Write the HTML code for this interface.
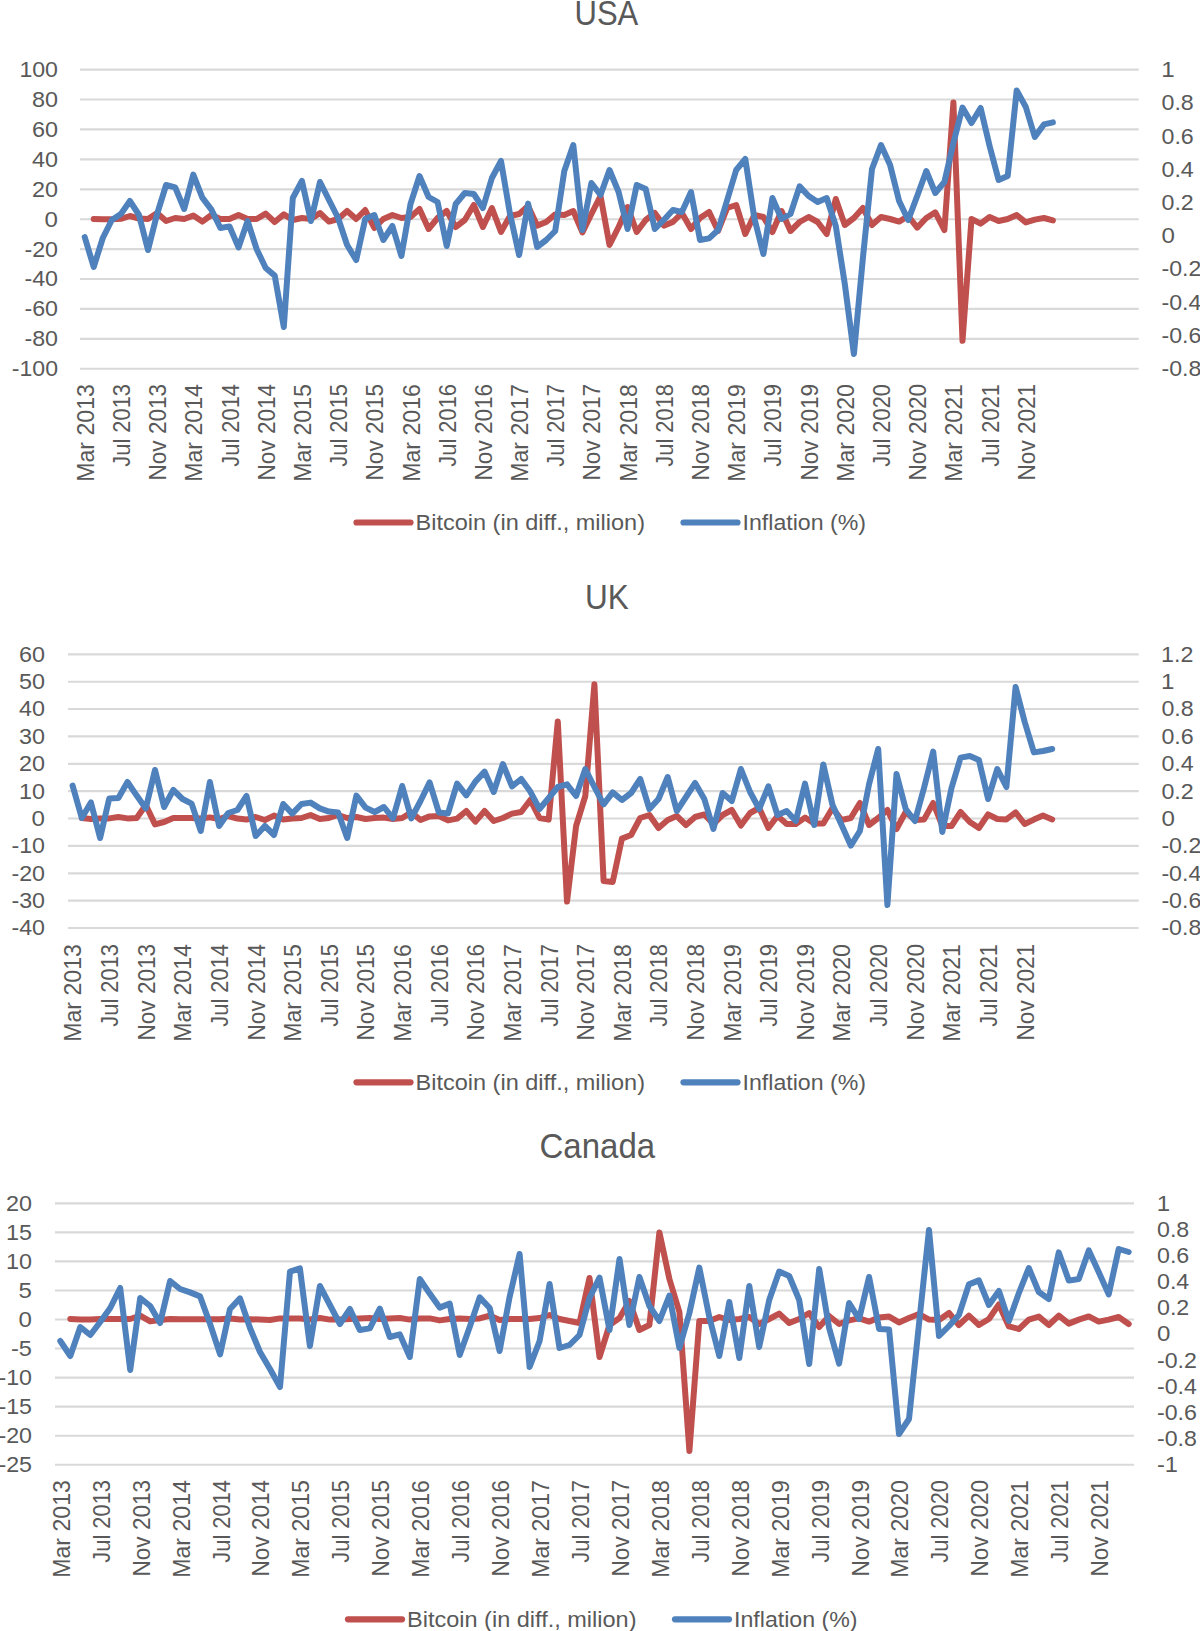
<!DOCTYPE html>
<html lang="en"><head><meta charset="utf-8"><title>Bitcoin and inflation: USA, UK, Canada</title>
<style>
html,body{margin:0;padding:0;background:#fff}
svg{display:block}
text{font-family:"Liberation Sans",sans-serif;fill:#595959}
</style></head><body>
<svg width="1200" height="1631" viewBox="0 0 1200 1631">
<rect width="1200" height="1631" fill="#fff"/>
<path d="M80 69.6H1138.7M80 99.5H1138.7M80 129.4H1138.7M80 159.3H1138.7M80 189.3H1138.7M80 219.2H1138.7M80 249.1H1138.7M80 279.0H1138.7M80 308.9H1138.7M80 338.8H1138.7M80 368.7H1138.7" stroke="#d9d9d9" stroke-width="2.15" fill="none"/>
<text x="19.4" y="77.0" font-size="22.4" textLength="38.6" lengthAdjust="spacingAndGlyphs">100</text>
<text x="32.0" y="106.9" font-size="22.4" textLength="26.0" lengthAdjust="spacingAndGlyphs">80</text>
<text x="32.0" y="136.8" font-size="22.4" textLength="26.0" lengthAdjust="spacingAndGlyphs">60</text>
<text x="32.0" y="166.7" font-size="22.4" textLength="26.0" lengthAdjust="spacingAndGlyphs">40</text>
<text x="32.0" y="196.7" font-size="22.4" textLength="26.0" lengthAdjust="spacingAndGlyphs">20</text>
<text x="44.6" y="226.6" font-size="22.4" textLength="13.4" lengthAdjust="spacingAndGlyphs">0</text>
<text x="24.4" y="256.5" font-size="22.4" textLength="33.6" lengthAdjust="spacingAndGlyphs">-20</text>
<text x="24.4" y="286.4" font-size="22.4" textLength="33.6" lengthAdjust="spacingAndGlyphs">-40</text>
<text x="24.4" y="316.3" font-size="22.4" textLength="33.6" lengthAdjust="spacingAndGlyphs">-60</text>
<text x="24.4" y="346.2" font-size="22.4" textLength="33.6" lengthAdjust="spacingAndGlyphs">-80</text>
<text x="11.8" y="376.1" font-size="22.4" textLength="46.2" lengthAdjust="spacingAndGlyphs">-100</text>
<text x="1161.2" y="77.0" font-size="22.4" textLength="13.4" lengthAdjust="spacingAndGlyphs">1</text>
<text x="1161.5" y="110.2" font-size="22.4" textLength="32.3" lengthAdjust="spacingAndGlyphs">0.8</text>
<text x="1161.5" y="143.5" font-size="22.4" textLength="32.3" lengthAdjust="spacingAndGlyphs">0.6</text>
<text x="1161.5" y="176.7" font-size="22.4" textLength="32.3" lengthAdjust="spacingAndGlyphs">0.4</text>
<text x="1161.5" y="210.0" font-size="22.4" textLength="32.3" lengthAdjust="spacingAndGlyphs">0.2</text>
<text x="1161.5" y="243.2" font-size="22.4" textLength="13.4" lengthAdjust="spacingAndGlyphs">0</text>
<text x="1161.5" y="276.4" font-size="22.4" textLength="39.9" lengthAdjust="spacingAndGlyphs">-0.2</text>
<text x="1161.5" y="309.7" font-size="22.4" textLength="39.9" lengthAdjust="spacingAndGlyphs">-0.4</text>
<text x="1161.5" y="342.9" font-size="22.4" textLength="39.9" lengthAdjust="spacingAndGlyphs">-0.6</text>
<text x="1161.5" y="376.2" font-size="22.4" textLength="39.9" lengthAdjust="spacingAndGlyphs">-0.8</text>
<text x="93.8" y="481.8" font-size="23.2" textLength="97.8" lengthAdjust="spacingAndGlyphs" transform="rotate(-90 93.8 481.8)">Mar 2013</text>
<text x="130.0" y="466.7" font-size="23.2" textLength="82.7" lengthAdjust="spacingAndGlyphs" transform="rotate(-90 130.0 466.7)">Jul 2013</text>
<text x="166.2" y="480.4" font-size="23.2" textLength="96.4" lengthAdjust="spacingAndGlyphs" transform="rotate(-90 166.2 480.4)">Nov 2013</text>
<text x="202.4" y="481.8" font-size="23.2" textLength="97.8" lengthAdjust="spacingAndGlyphs" transform="rotate(-90 202.4 481.8)">Mar 2014</text>
<text x="238.6" y="466.7" font-size="23.2" textLength="82.7" lengthAdjust="spacingAndGlyphs" transform="rotate(-90 238.6 466.7)">Jul 2014</text>
<text x="274.8" y="480.4" font-size="23.2" textLength="96.4" lengthAdjust="spacingAndGlyphs" transform="rotate(-90 274.8 480.4)">Nov 2014</text>
<text x="311.0" y="481.8" font-size="23.2" textLength="97.8" lengthAdjust="spacingAndGlyphs" transform="rotate(-90 311.0 481.8)">Mar 2015</text>
<text x="347.2" y="466.7" font-size="23.2" textLength="82.7" lengthAdjust="spacingAndGlyphs" transform="rotate(-90 347.2 466.7)">Jul 2015</text>
<text x="383.4" y="480.4" font-size="23.2" textLength="96.4" lengthAdjust="spacingAndGlyphs" transform="rotate(-90 383.4 480.4)">Nov 2015</text>
<text x="419.6" y="481.8" font-size="23.2" textLength="97.8" lengthAdjust="spacingAndGlyphs" transform="rotate(-90 419.6 481.8)">Mar 2016</text>
<text x="455.8" y="466.7" font-size="23.2" textLength="82.7" lengthAdjust="spacingAndGlyphs" transform="rotate(-90 455.8 466.7)">Jul 2016</text>
<text x="492.0" y="480.4" font-size="23.2" textLength="96.4" lengthAdjust="spacingAndGlyphs" transform="rotate(-90 492.0 480.4)">Nov 2016</text>
<text x="528.2" y="481.8" font-size="23.2" textLength="97.8" lengthAdjust="spacingAndGlyphs" transform="rotate(-90 528.2 481.8)">Mar 2017</text>
<text x="564.3" y="466.7" font-size="23.2" textLength="82.7" lengthAdjust="spacingAndGlyphs" transform="rotate(-90 564.3 466.7)">Jul 2017</text>
<text x="600.5" y="480.4" font-size="23.2" textLength="96.4" lengthAdjust="spacingAndGlyphs" transform="rotate(-90 600.5 480.4)">Nov 2017</text>
<text x="636.7" y="481.8" font-size="23.2" textLength="97.8" lengthAdjust="spacingAndGlyphs" transform="rotate(-90 636.7 481.8)">Mar 2018</text>
<text x="672.9" y="466.7" font-size="23.2" textLength="82.7" lengthAdjust="spacingAndGlyphs" transform="rotate(-90 672.9 466.7)">Jul 2018</text>
<text x="709.1" y="480.4" font-size="23.2" textLength="96.4" lengthAdjust="spacingAndGlyphs" transform="rotate(-90 709.1 480.4)">Nov 2018</text>
<text x="745.3" y="481.8" font-size="23.2" textLength="97.8" lengthAdjust="spacingAndGlyphs" transform="rotate(-90 745.3 481.8)">Mar 2019</text>
<text x="781.5" y="466.7" font-size="23.2" textLength="82.7" lengthAdjust="spacingAndGlyphs" transform="rotate(-90 781.5 466.7)">Jul 2019</text>
<text x="817.7" y="480.4" font-size="23.2" textLength="96.4" lengthAdjust="spacingAndGlyphs" transform="rotate(-90 817.7 480.4)">Nov 2019</text>
<text x="853.9" y="481.8" font-size="23.2" textLength="97.8" lengthAdjust="spacingAndGlyphs" transform="rotate(-90 853.9 481.8)">Mar 2020</text>
<text x="890.1" y="466.7" font-size="23.2" textLength="82.7" lengthAdjust="spacingAndGlyphs" transform="rotate(-90 890.1 466.7)">Jul 2020</text>
<text x="926.3" y="480.4" font-size="23.2" textLength="96.4" lengthAdjust="spacingAndGlyphs" transform="rotate(-90 926.3 480.4)">Nov 2020</text>
<text x="962.5" y="481.8" font-size="23.2" textLength="97.8" lengthAdjust="spacingAndGlyphs" transform="rotate(-90 962.5 481.8)">Mar 2021</text>
<text x="998.7" y="466.7" font-size="23.2" textLength="82.7" lengthAdjust="spacingAndGlyphs" transform="rotate(-90 998.7 466.7)">Jul 2021</text>
<text x="1034.9" y="480.4" font-size="23.2" textLength="96.4" lengthAdjust="spacingAndGlyphs" transform="rotate(-90 1034.9 480.4)">Nov 2021</text>
<polyline points="93.7,219.0 102.8,219.2 111.8,219.2 120.9,218.8 129.9,216.0 139.0,218.6 148.0,219.0 157.1,213.0 166.1,221.0 175.2,218.0 184.2,219.0 193.3,215.6 202.3,221.6 211.4,215.0 220.4,219.0 229.5,219.0 238.5,215.0 247.6,219.0 256.6,219.0 265.7,213.6 274.7,222.0 283.8,214.4 292.8,220.0 301.9,218.0 310.9,219.0 320.0,213.0 329.0,221.6 338.1,219.0 347.1,211.0 356.2,219.0 365.2,210.0 374.3,228.0 383.3,219.0 392.4,215.0 401.4,218.0 410.5,217.0 419.5,209.0 428.6,229.0 437.6,218.0 446.7,211.0 455.7,227.0 464.8,220.0 473.8,205.0 482.9,227.0 491.9,208.0 501.0,232.0 510.0,216.0 519.1,214.0 528.1,206.0 537.1,225.6 546.2,222.0 555.2,214.4 564.3,215.0 573.3,211.0 582.4,232.4 591.4,214.0 600.5,196.0 609.5,245.0 618.6,227.0 627.6,207.0 636.7,232.0 645.7,220.0 654.8,213.0 663.8,225.6 672.9,222.0 681.9,213.0 691.0,229.0 700.0,218.0 709.1,212.0 718.1,231.0 727.2,208.0 736.2,205.0 745.3,234.0 754.3,215.0 763.4,217.0 772.4,232.0 781.5,211.0 790.5,231.0 799.6,222.0 808.6,217.0 817.7,222.0 826.7,234.0 835.8,199.0 844.8,225.0 853.9,218.0 862.9,208.0 872.0,225.0 881.0,217.0 890.1,219.0 899.1,221.6 908.2,216.0 917.2,227.6 926.3,218.0 935.3,212.4 944.4,230.0 953.4,102.4 962.5,340.8 971.5,219.0 980.6,223.6 989.6,217.0 998.6,221.0 1007.7,219.0 1016.7,215.0 1025.8,222.4 1034.8,219.6 1043.9,218.0 1052.9,220.4" stroke="#c0504d" stroke-width="6.0" fill="none" stroke-linejoin="round" stroke-linecap="round"/>
<polyline points="84.7,237.0 93.7,267.0 102.8,238.0 111.8,220.0 120.9,214.0 129.9,201.0 139.0,215.0 148.0,250.0 157.1,214.0 166.1,185.0 175.2,187.4 184.2,209.0 193.3,174.6 202.3,197.6 211.4,209.6 220.4,228.0 229.5,226.4 238.5,247.4 247.6,221.0 256.6,249.0 265.7,268.0 274.7,275.6 283.8,327.0 292.8,198.0 301.9,181.0 310.9,221.0 320.0,182.0 329.0,200.0 338.1,218.0 347.1,245.0 356.2,260.0 365.2,219.0 374.3,215.0 383.3,240.0 392.4,226.0 401.4,256.0 410.5,204.0 419.5,176.0 428.6,197.0 437.6,202.0 446.7,246.0 455.7,204.0 464.8,193.0 473.8,194.0 482.9,208.0 491.9,178.0 501.0,161.0 510.0,214.0 519.1,255.0 528.1,203.6 537.1,247.0 546.2,240.0 555.2,231.0 564.3,171.0 573.3,145.0 582.4,230.0 591.4,183.0 600.5,195.0 609.5,170.0 618.6,192.0 627.6,229.0 636.7,185.0 645.7,189.0 654.8,229.0 663.8,220.0 672.9,210.0 681.9,212.0 691.0,192.0 700.0,240.0 709.1,238.4 718.1,230.0 727.2,200.0 736.2,170.0 745.3,159.0 754.3,218.0 763.4,254.0 772.4,198.0 781.5,219.0 790.5,214.0 799.6,186.4 808.6,196.0 817.7,202.0 826.7,198.0 835.8,226.0 844.8,284.0 853.9,354.0 862.9,258.0 872.0,169.0 881.0,145.0 890.1,165.0 899.1,201.0 908.2,220.0 917.2,196.0 926.3,171.0 935.3,193.0 944.4,182.0 953.4,143.0 962.5,107.6 971.5,123.0 980.6,108.0 989.6,146.0 998.6,180.0 1007.7,176.0 1016.7,90.4 1025.8,107.0 1034.8,137.0 1043.9,124.4 1052.9,122.4" stroke="#4f81bd" stroke-width="6.0" fill="none" stroke-linejoin="round" stroke-linecap="round"/>
<text x="574.5" y="25.0" font-size="35.6" textLength="63.8" lengthAdjust="spacingAndGlyphs">USA</text>
<path d="M356.5 522.5H410.5" stroke="#c0504d" stroke-width="6.2" stroke-linecap="round"/>
<path d="M683.5 522.5H737.5" stroke="#4f81bd" stroke-width="6.2" stroke-linecap="round"/>
<text x="415.5" y="530.2" font-size="22.4" textLength="229.5" lengthAdjust="spacingAndGlyphs">Bitcoin (in diff., milion)</text>
<text x="742.5" y="530.2" font-size="22.4" textLength="123.5" lengthAdjust="spacingAndGlyphs">Inflation (%)</text>
<path d="M68 654.3H1138.7M68 681.7H1138.7M68 709.0H1138.7M68 736.4H1138.7M68 763.8H1138.7M68 791.1H1138.7M68 818.5H1138.7M68 845.9H1138.7M68 873.3H1138.7M68 900.6H1138.7M68 928.0H1138.7" stroke="#d9d9d9" stroke-width="2.15" fill="none"/>
<text x="19.0" y="661.7" font-size="22.4" textLength="26.0" lengthAdjust="spacingAndGlyphs">60</text>
<text x="19.0" y="689.1" font-size="22.4" textLength="26.0" lengthAdjust="spacingAndGlyphs">50</text>
<text x="19.0" y="716.4" font-size="22.4" textLength="26.0" lengthAdjust="spacingAndGlyphs">40</text>
<text x="19.0" y="743.8" font-size="22.4" textLength="26.0" lengthAdjust="spacingAndGlyphs">30</text>
<text x="19.0" y="771.2" font-size="22.4" textLength="26.0" lengthAdjust="spacingAndGlyphs">20</text>
<text x="19.0" y="798.5" font-size="22.4" textLength="26.0" lengthAdjust="spacingAndGlyphs">10</text>
<text x="31.6" y="825.9" font-size="22.4" textLength="13.4" lengthAdjust="spacingAndGlyphs">0</text>
<text x="11.4" y="853.3" font-size="22.4" textLength="33.6" lengthAdjust="spacingAndGlyphs">-10</text>
<text x="11.4" y="880.7" font-size="22.4" textLength="33.6" lengthAdjust="spacingAndGlyphs">-20</text>
<text x="11.4" y="908.0" font-size="22.4" textLength="33.6" lengthAdjust="spacingAndGlyphs">-30</text>
<text x="11.4" y="935.4" font-size="22.4" textLength="33.6" lengthAdjust="spacingAndGlyphs">-40</text>
<text x="1161.1" y="661.7" font-size="22.4" textLength="32.3" lengthAdjust="spacingAndGlyphs">1.2</text>
<text x="1161.1" y="689.1" font-size="22.4" textLength="13.4" lengthAdjust="spacingAndGlyphs">1</text>
<text x="1161.4" y="716.4" font-size="22.4" textLength="32.3" lengthAdjust="spacingAndGlyphs">0.8</text>
<text x="1161.4" y="743.8" font-size="22.4" textLength="32.3" lengthAdjust="spacingAndGlyphs">0.6</text>
<text x="1161.4" y="771.2" font-size="22.4" textLength="32.3" lengthAdjust="spacingAndGlyphs">0.4</text>
<text x="1161.4" y="798.5" font-size="22.4" textLength="32.3" lengthAdjust="spacingAndGlyphs">0.2</text>
<text x="1161.4" y="825.9" font-size="22.4" textLength="13.4" lengthAdjust="spacingAndGlyphs">0</text>
<text x="1161.4" y="853.3" font-size="22.4" textLength="39.9" lengthAdjust="spacingAndGlyphs">-0.2</text>
<text x="1161.4" y="880.7" font-size="22.4" textLength="39.9" lengthAdjust="spacingAndGlyphs">-0.4</text>
<text x="1161.4" y="908.0" font-size="22.4" textLength="39.9" lengthAdjust="spacingAndGlyphs">-0.6</text>
<text x="1161.4" y="935.4" font-size="22.4" textLength="39.9" lengthAdjust="spacingAndGlyphs">-0.8</text>
<text x="81.5" y="1041.8" font-size="23.2" textLength="97.8" lengthAdjust="spacingAndGlyphs" transform="rotate(-90 81.5 1041.8)">Mar 2013</text>
<text x="118.1" y="1026.7" font-size="23.2" textLength="82.7" lengthAdjust="spacingAndGlyphs" transform="rotate(-90 118.1 1026.7)">Jul 2013</text>
<text x="154.7" y="1040.4" font-size="23.2" textLength="96.4" lengthAdjust="spacingAndGlyphs" transform="rotate(-90 154.7 1040.4)">Nov 2013</text>
<text x="191.4" y="1041.8" font-size="23.2" textLength="97.8" lengthAdjust="spacingAndGlyphs" transform="rotate(-90 191.4 1041.8)">Mar 2014</text>
<text x="228.0" y="1026.7" font-size="23.2" textLength="82.7" lengthAdjust="spacingAndGlyphs" transform="rotate(-90 228.0 1026.7)">Jul 2014</text>
<text x="264.6" y="1040.4" font-size="23.2" textLength="96.4" lengthAdjust="spacingAndGlyphs" transform="rotate(-90 264.6 1040.4)">Nov 2014</text>
<text x="301.2" y="1041.8" font-size="23.2" textLength="97.8" lengthAdjust="spacingAndGlyphs" transform="rotate(-90 301.2 1041.8)">Mar 2015</text>
<text x="337.8" y="1026.7" font-size="23.2" textLength="82.7" lengthAdjust="spacingAndGlyphs" transform="rotate(-90 337.8 1026.7)">Jul 2015</text>
<text x="374.5" y="1040.4" font-size="23.2" textLength="96.4" lengthAdjust="spacingAndGlyphs" transform="rotate(-90 374.5 1040.4)">Nov 2015</text>
<text x="411.1" y="1041.8" font-size="23.2" textLength="97.8" lengthAdjust="spacingAndGlyphs" transform="rotate(-90 411.1 1041.8)">Mar 2016</text>
<text x="447.7" y="1026.7" font-size="23.2" textLength="82.7" lengthAdjust="spacingAndGlyphs" transform="rotate(-90 447.7 1026.7)">Jul 2016</text>
<text x="484.3" y="1040.4" font-size="23.2" textLength="96.4" lengthAdjust="spacingAndGlyphs" transform="rotate(-90 484.3 1040.4)">Nov 2016</text>
<text x="520.9" y="1041.8" font-size="23.2" textLength="97.8" lengthAdjust="spacingAndGlyphs" transform="rotate(-90 520.9 1041.8)">Mar 2017</text>
<text x="557.6" y="1026.7" font-size="23.2" textLength="82.7" lengthAdjust="spacingAndGlyphs" transform="rotate(-90 557.6 1026.7)">Jul 2017</text>
<text x="594.2" y="1040.4" font-size="23.2" textLength="96.4" lengthAdjust="spacingAndGlyphs" transform="rotate(-90 594.2 1040.4)">Nov 2017</text>
<text x="630.8" y="1041.8" font-size="23.2" textLength="97.8" lengthAdjust="spacingAndGlyphs" transform="rotate(-90 630.8 1041.8)">Mar 2018</text>
<text x="667.4" y="1026.7" font-size="23.2" textLength="82.7" lengthAdjust="spacingAndGlyphs" transform="rotate(-90 667.4 1026.7)">Jul 2018</text>
<text x="704.0" y="1040.4" font-size="23.2" textLength="96.4" lengthAdjust="spacingAndGlyphs" transform="rotate(-90 704.0 1040.4)">Nov 2018</text>
<text x="740.7" y="1041.8" font-size="23.2" textLength="97.8" lengthAdjust="spacingAndGlyphs" transform="rotate(-90 740.7 1041.8)">Mar 2019</text>
<text x="777.3" y="1026.7" font-size="23.2" textLength="82.7" lengthAdjust="spacingAndGlyphs" transform="rotate(-90 777.3 1026.7)">Jul 2019</text>
<text x="813.9" y="1040.4" font-size="23.2" textLength="96.4" lengthAdjust="spacingAndGlyphs" transform="rotate(-90 813.9 1040.4)">Nov 2019</text>
<text x="850.5" y="1041.8" font-size="23.2" textLength="97.8" lengthAdjust="spacingAndGlyphs" transform="rotate(-90 850.5 1041.8)">Mar 2020</text>
<text x="887.1" y="1026.7" font-size="23.2" textLength="82.7" lengthAdjust="spacingAndGlyphs" transform="rotate(-90 887.1 1026.7)">Jul 2020</text>
<text x="923.8" y="1040.4" font-size="23.2" textLength="96.4" lengthAdjust="spacingAndGlyphs" transform="rotate(-90 923.8 1040.4)">Nov 2020</text>
<text x="960.4" y="1041.8" font-size="23.2" textLength="97.8" lengthAdjust="spacingAndGlyphs" transform="rotate(-90 960.4 1041.8)">Mar 2021</text>
<text x="997.0" y="1026.7" font-size="23.2" textLength="82.7" lengthAdjust="spacingAndGlyphs" transform="rotate(-90 997.0 1026.7)">Jul 2021</text>
<text x="1033.6" y="1040.4" font-size="23.2" textLength="96.4" lengthAdjust="spacingAndGlyphs" transform="rotate(-90 1033.6 1040.4)">Nov 2021</text>
<polyline points="81.8,818.0 90.9,819.0 100.1,818.4 109.2,818.4 118.4,817.0 127.5,818.4 136.7,818.0 145.8,805.0 155.0,824.4 164.1,822.0 173.3,818.0 182.5,818.0 191.6,818.0 200.8,818.6 209.9,817.4 219.1,819.0 228.2,816.0 237.4,818.6 246.5,819.6 255.7,817.0 264.9,820.0 274.0,815.6 283.2,819.4 292.3,818.4 301.5,818.0 310.6,815.0 319.8,819.0 328.9,818.0 338.1,815.0 347.2,818.0 356.4,817.0 365.6,819.0 374.7,818.0 383.9,817.6 393.0,819.0 402.2,818.0 411.3,812.4 420.5,820.0 429.6,816.4 438.8,816.0 448.0,820.4 457.1,818.6 466.3,811.0 475.4,821.6 484.6,811.0 493.7,821.0 502.9,818.0 512.0,813.6 521.2,812.0 530.3,800.0 539.5,818.0 548.7,819.6 557.8,721.4 567.0,901.6 576.1,826.0 585.3,796.0 594.4,684.2 603.6,881.0 612.7,882.0 621.9,838.6 631.1,835.0 640.2,818.0 649.4,815.0 658.5,828.0 667.7,820.0 676.8,816.0 686.0,825.0 695.1,817.0 704.3,814.4 713.4,824.0 722.6,815.0 731.8,810.0 740.9,825.6 750.1,813.0 759.2,808.0 768.4,828.0 777.5,816.0 786.7,824.0 795.8,824.0 805.0,817.6 814.2,823.6 823.3,823.6 832.5,808.0 841.6,820.0 850.8,818.0 859.9,803.0 869.1,825.0 878.2,818.0 887.4,810.0 896.5,829.0 905.7,812.0 914.9,820.0 924.0,819.6 933.2,803.0 942.3,826.0 951.5,826.0 960.6,812.0 969.8,822.0 978.9,828.0 988.1,814.4 997.3,819.0 1006.4,819.4 1015.6,812.4 1024.7,824.0 1033.9,819.6 1043.0,815.6 1052.2,819.4" stroke="#c0504d" stroke-width="6.0" fill="none" stroke-linejoin="round" stroke-linecap="round"/>
<polyline points="72.6,785.6 81.8,818.0 90.9,802.4 100.1,838.0 109.2,798.6 118.4,798.0 127.5,782.0 136.7,795.6 145.8,808.4 155.0,770.0 164.1,807.0 173.3,790.0 182.5,799.0 191.6,803.6 200.8,831.0 209.9,782.0 219.1,826.0 228.2,813.0 237.4,810.0 246.5,796.0 255.7,836.0 264.9,826.0 274.0,835.0 283.2,804.0 292.3,813.6 301.5,804.0 310.6,802.6 319.8,808.4 328.9,811.6 338.1,812.6 347.2,838.0 356.4,795.6 365.6,807.6 374.7,812.0 383.9,807.0 393.0,818.4 402.2,786.0 411.3,818.4 420.5,801.0 429.6,782.4 438.8,812.4 448.0,813.4 457.1,783.6 466.3,795.4 475.4,781.6 484.6,771.6 493.7,792.0 502.9,764.0 512.0,786.4 521.2,779.0 530.3,791.6 539.5,809.0 548.7,798.0 557.8,787.0 567.0,784.4 576.1,796.0 585.3,769.0 594.4,787.0 603.6,804.4 612.7,792.4 621.9,800.0 631.1,793.0 640.2,779.0 649.4,809.0 658.5,799.0 667.7,777.0 676.8,811.0 686.0,797.0 695.1,783.0 704.3,799.0 713.4,829.0 722.6,793.0 731.8,801.0 740.9,769.0 750.1,792.0 759.2,809.0 768.4,786.4 777.5,815.0 786.7,811.0 795.8,821.0 805.0,783.6 814.2,825.0 823.3,764.4 832.5,805.0 841.6,825.0 850.8,845.6 859.9,831.0 869.1,784.0 878.2,749.0 887.4,905.0 896.5,774.0 905.7,809.0 914.9,821.0 924.0,788.0 933.2,751.6 942.3,832.0 951.5,788.0 960.6,757.6 969.8,756.0 978.9,760.0 988.1,799.0 997.3,769.0 1006.4,787.0 1015.6,687.0 1024.7,722.0 1033.9,752.4 1043.0,751.0 1052.2,749.0" stroke="#4f81bd" stroke-width="6.0" fill="none" stroke-linejoin="round" stroke-linecap="round"/>
<text x="584.9" y="609.0" font-size="35.6" textLength="43.8" lengthAdjust="spacingAndGlyphs">UK</text>
<path d="M356.5 1082.3H410.5" stroke="#c0504d" stroke-width="6.2" stroke-linecap="round"/>
<path d="M683.5 1082.3H737.5" stroke="#4f81bd" stroke-width="6.2" stroke-linecap="round"/>
<text x="415.5" y="1090.0" font-size="22.4" textLength="229.5" lengthAdjust="spacingAndGlyphs">Bitcoin (in diff., milion)</text>
<text x="742.5" y="1090.0" font-size="22.4" textLength="123.5" lengthAdjust="spacingAndGlyphs">Inflation (%)</text>
<path d="M55 1203.3H1134M55 1232.4H1134M55 1261.4H1134M55 1290.5H1134M55 1319.5H1134M55 1348.5H1134M55 1377.6H1134M55 1406.6H1134M55 1435.7H1134M55 1464.7H1134" stroke="#d9d9d9" stroke-width="2.15" fill="none"/>
<text x="6.0" y="1210.8" font-size="22.4" textLength="26.0" lengthAdjust="spacingAndGlyphs">20</text>
<text x="6.0" y="1239.8" font-size="22.4" textLength="26.0" lengthAdjust="spacingAndGlyphs">15</text>
<text x="6.0" y="1268.8" font-size="22.4" textLength="26.0" lengthAdjust="spacingAndGlyphs">10</text>
<text x="18.6" y="1297.9" font-size="22.4" textLength="13.4" lengthAdjust="spacingAndGlyphs">5</text>
<text x="18.6" y="1326.9" font-size="22.4" textLength="13.4" lengthAdjust="spacingAndGlyphs">0</text>
<text x="11.0" y="1356.0" font-size="22.4" textLength="21.0" lengthAdjust="spacingAndGlyphs">-5</text>
<text x="-1.6" y="1385.0" font-size="22.4" textLength="33.6" lengthAdjust="spacingAndGlyphs">-10</text>
<text x="-1.6" y="1414.0" font-size="22.4" textLength="33.6" lengthAdjust="spacingAndGlyphs">-15</text>
<text x="-1.6" y="1443.1" font-size="22.4" textLength="33.6" lengthAdjust="spacingAndGlyphs">-20</text>
<text x="-1.6" y="1472.1" font-size="22.4" textLength="33.6" lengthAdjust="spacingAndGlyphs">-25</text>
<text x="1156.7" y="1210.8" font-size="22.4" textLength="13.4" lengthAdjust="spacingAndGlyphs">1</text>
<text x="1157.0" y="1236.9" font-size="22.4" textLength="32.3" lengthAdjust="spacingAndGlyphs">0.8</text>
<text x="1157.0" y="1263.0" font-size="22.4" textLength="32.3" lengthAdjust="spacingAndGlyphs">0.6</text>
<text x="1157.0" y="1289.2" font-size="22.4" textLength="32.3" lengthAdjust="spacingAndGlyphs">0.4</text>
<text x="1157.0" y="1315.3" font-size="22.4" textLength="32.3" lengthAdjust="spacingAndGlyphs">0.2</text>
<text x="1157.0" y="1341.4" font-size="22.4" textLength="13.4" lengthAdjust="spacingAndGlyphs">0</text>
<text x="1157.0" y="1367.6" font-size="22.4" textLength="39.9" lengthAdjust="spacingAndGlyphs">-0.2</text>
<text x="1157.0" y="1393.7" font-size="22.4" textLength="39.9" lengthAdjust="spacingAndGlyphs">-0.4</text>
<text x="1157.0" y="1419.8" font-size="22.4" textLength="39.9" lengthAdjust="spacingAndGlyphs">-0.6</text>
<text x="1157.0" y="1446.0" font-size="22.4" textLength="39.9" lengthAdjust="spacingAndGlyphs">-0.8</text>
<text x="1157.0" y="1472.1" font-size="22.4" textLength="21.0" lengthAdjust="spacingAndGlyphs">-1</text>
<text x="69.8" y="1577.8" font-size="23.2" textLength="97.8" lengthAdjust="spacingAndGlyphs" transform="rotate(-90 69.8 1577.8)">Mar 2013</text>
<text x="109.7" y="1562.7" font-size="23.2" textLength="82.7" lengthAdjust="spacingAndGlyphs" transform="rotate(-90 109.7 1562.7)">Jul 2013</text>
<text x="149.7" y="1576.4" font-size="23.2" textLength="96.4" lengthAdjust="spacingAndGlyphs" transform="rotate(-90 149.7 1576.4)">Nov 2013</text>
<text x="189.6" y="1577.8" font-size="23.2" textLength="97.8" lengthAdjust="spacingAndGlyphs" transform="rotate(-90 189.6 1577.8)">Mar 2014</text>
<text x="229.6" y="1562.7" font-size="23.2" textLength="82.7" lengthAdjust="spacingAndGlyphs" transform="rotate(-90 229.6 1562.7)">Jul 2014</text>
<text x="269.5" y="1576.4" font-size="23.2" textLength="96.4" lengthAdjust="spacingAndGlyphs" transform="rotate(-90 269.5 1576.4)">Nov 2014</text>
<text x="309.4" y="1577.8" font-size="23.2" textLength="97.8" lengthAdjust="spacingAndGlyphs" transform="rotate(-90 309.4 1577.8)">Mar 2015</text>
<text x="349.4" y="1562.7" font-size="23.2" textLength="82.7" lengthAdjust="spacingAndGlyphs" transform="rotate(-90 349.4 1562.7)">Jul 2015</text>
<text x="389.3" y="1576.4" font-size="23.2" textLength="96.4" lengthAdjust="spacingAndGlyphs" transform="rotate(-90 389.3 1576.4)">Nov 2015</text>
<text x="429.3" y="1577.8" font-size="23.2" textLength="97.8" lengthAdjust="spacingAndGlyphs" transform="rotate(-90 429.3 1577.8)">Mar 2016</text>
<text x="469.2" y="1562.7" font-size="23.2" textLength="82.7" lengthAdjust="spacingAndGlyphs" transform="rotate(-90 469.2 1562.7)">Jul 2016</text>
<text x="509.1" y="1576.4" font-size="23.2" textLength="96.4" lengthAdjust="spacingAndGlyphs" transform="rotate(-90 509.1 1576.4)">Nov 2016</text>
<text x="549.1" y="1577.8" font-size="23.2" textLength="97.8" lengthAdjust="spacingAndGlyphs" transform="rotate(-90 549.1 1577.8)">Mar 2017</text>
<text x="589.0" y="1562.7" font-size="23.2" textLength="82.7" lengthAdjust="spacingAndGlyphs" transform="rotate(-90 589.0 1562.7)">Jul 2017</text>
<text x="629.0" y="1576.4" font-size="23.2" textLength="96.4" lengthAdjust="spacingAndGlyphs" transform="rotate(-90 629.0 1576.4)">Nov 2017</text>
<text x="668.9" y="1577.8" font-size="23.2" textLength="97.8" lengthAdjust="spacingAndGlyphs" transform="rotate(-90 668.9 1577.8)">Mar 2018</text>
<text x="708.8" y="1562.7" font-size="23.2" textLength="82.7" lengthAdjust="spacingAndGlyphs" transform="rotate(-90 708.8 1562.7)">Jul 2018</text>
<text x="748.8" y="1576.4" font-size="23.2" textLength="96.4" lengthAdjust="spacingAndGlyphs" transform="rotate(-90 748.8 1576.4)">Nov 2018</text>
<text x="788.7" y="1577.8" font-size="23.2" textLength="97.8" lengthAdjust="spacingAndGlyphs" transform="rotate(-90 788.7 1577.8)">Mar 2019</text>
<text x="828.7" y="1562.7" font-size="23.2" textLength="82.7" lengthAdjust="spacingAndGlyphs" transform="rotate(-90 828.7 1562.7)">Jul 2019</text>
<text x="868.6" y="1576.4" font-size="23.2" textLength="96.4" lengthAdjust="spacingAndGlyphs" transform="rotate(-90 868.6 1576.4)">Nov 2019</text>
<text x="908.5" y="1577.8" font-size="23.2" textLength="97.8" lengthAdjust="spacingAndGlyphs" transform="rotate(-90 908.5 1577.8)">Mar 2020</text>
<text x="948.5" y="1562.7" font-size="23.2" textLength="82.7" lengthAdjust="spacingAndGlyphs" transform="rotate(-90 948.5 1562.7)">Jul 2020</text>
<text x="988.4" y="1576.4" font-size="23.2" textLength="96.4" lengthAdjust="spacingAndGlyphs" transform="rotate(-90 988.4 1576.4)">Nov 2020</text>
<text x="1028.4" y="1577.8" font-size="23.2" textLength="97.8" lengthAdjust="spacingAndGlyphs" transform="rotate(-90 1028.4 1577.8)">Mar 2021</text>
<text x="1068.3" y="1562.7" font-size="23.2" textLength="82.7" lengthAdjust="spacingAndGlyphs" transform="rotate(-90 1068.3 1562.7)">Jul 2021</text>
<text x="1108.2" y="1576.4" font-size="23.2" textLength="96.4" lengthAdjust="spacingAndGlyphs" transform="rotate(-90 1108.2 1576.4)">Nov 2021</text>
<polyline points="70.3,1319.0 80.3,1319.4 90.3,1319.4 100.2,1319.0 110.2,1319.0 120.2,1319.0 130.2,1319.0 140.2,1315.6 150.2,1321.4 160.1,1320.0 170.1,1319.0 180.1,1319.2 190.1,1319.2 200.1,1319.2 210.1,1319.2 220.1,1319.2 230.0,1318.4 240.0,1319.6 250.0,1319.2 260.0,1319.6 270.0,1320.0 280.0,1318.4 290.0,1318.4 299.9,1318.6 309.9,1319.4 319.9,1318.0 329.9,1319.6 339.9,1319.6 349.9,1319.0 359.8,1318.6 369.8,1318.0 379.8,1319.0 389.8,1318.4 399.8,1318.0 409.8,1319.6 419.8,1318.4 429.7,1318.4 439.7,1320.4 449.7,1319.0 459.7,1318.6 469.7,1319.0 479.7,1318.4 489.7,1315.6 499.6,1320.0 509.6,1319.0 519.6,1319.0 529.6,1319.0 539.6,1318.0 549.6,1315.0 559.5,1319.0 569.5,1321.0 579.5,1323.0 589.5,1278.0 599.5,1357.0 609.5,1325.0 619.5,1318.0 629.4,1301.0 639.4,1330.0 649.4,1325.0 659.4,1232.4 669.4,1279.0 679.4,1312.0 689.4,1451.0 699.3,1321.0 709.3,1321.0 719.3,1317.0 729.3,1320.0 739.3,1319.0 749.3,1317.0 759.2,1324.0 769.2,1319.0 779.2,1313.6 789.2,1323.0 799.2,1319.0 809.2,1313.0 819.2,1327.0 829.1,1316.0 839.1,1324.0 849.1,1320.4 859.1,1318.4 869.1,1321.6 879.1,1317.6 889.1,1316.6 899.0,1322.4 909.0,1318.0 919.0,1314.0 929.0,1319.6 939.0,1320.0 949.0,1313.0 958.9,1325.0 968.9,1315.6 978.9,1325.0 988.9,1319.0 998.9,1304.4 1008.9,1326.4 1018.9,1329.0 1028.8,1319.6 1038.8,1316.6 1048.8,1325.0 1058.8,1315.6 1068.8,1323.6 1078.8,1319.6 1088.8,1316.4 1098.7,1321.6 1108.7,1319.6 1118.7,1317.0 1128.7,1324.0" stroke="#c0504d" stroke-width="6.0" fill="none" stroke-linejoin="round" stroke-linecap="round"/>
<polyline points="60.3,1341.0 70.3,1356.0 80.3,1327.0 90.3,1335.0 100.2,1322.0 110.2,1308.0 120.2,1288.0 130.2,1370.0 140.2,1298.0 150.2,1306.0 160.1,1323.0 170.1,1281.0 180.1,1289.0 190.1,1292.4 200.1,1296.4 210.1,1324.0 220.1,1354.4 230.0,1309.0 240.0,1298.4 250.0,1328.0 260.0,1352.0 270.0,1369.0 280.0,1387.0 290.0,1271.6 299.9,1268.4 309.9,1346.0 319.9,1286.0 329.9,1305.0 339.9,1324.0 349.9,1309.0 359.8,1330.0 369.8,1328.4 379.8,1308.6 389.8,1337.0 399.8,1334.4 409.8,1357.0 419.8,1279.0 429.7,1293.6 439.7,1307.6 449.7,1303.6 459.7,1355.0 469.7,1327.0 479.7,1297.4 489.7,1308.0 499.6,1351.0 509.6,1297.0 519.6,1254.0 529.6,1367.0 539.6,1341.0 549.6,1284.0 559.5,1348.0 569.5,1345.0 579.5,1335.0 589.5,1298.0 599.5,1277.6 609.5,1330.0 619.5,1259.0 629.4,1325.0 639.4,1277.0 649.4,1306.0 659.4,1321.0 669.4,1295.6 679.4,1348.0 689.4,1313.0 699.3,1267.6 709.3,1317.0 719.3,1356.0 729.3,1302.0 739.3,1358.0 749.3,1286.0 759.2,1347.0 769.2,1300.0 779.2,1271.6 789.2,1276.0 799.2,1300.0 809.2,1364.0 819.2,1269.0 829.1,1328.0 839.1,1363.6 849.1,1303.0 859.1,1319.0 869.1,1277.0 879.1,1329.0 889.1,1329.6 899.0,1434.0 909.0,1419.0 919.0,1324.0 929.0,1230.0 939.0,1336.0 949.0,1326.0 958.9,1315.0 968.9,1284.4 978.9,1280.4 988.9,1305.0 998.9,1291.0 1008.9,1321.0 1018.9,1293.0 1028.8,1268.0 1038.8,1292.0 1048.8,1299.0 1058.8,1252.4 1068.8,1280.6 1078.8,1279.0 1088.8,1250.4 1098.7,1272.0 1108.7,1294.4 1118.7,1249.0 1128.7,1252.0" stroke="#4f81bd" stroke-width="6.0" fill="none" stroke-linejoin="round" stroke-linecap="round"/>
<text x="539.5" y="1158.0" font-size="35.6" textLength="115.6" lengthAdjust="spacingAndGlyphs">Canada</text>
<path d="M348.0 1619.3H402.0" stroke="#c0504d" stroke-width="6.2" stroke-linecap="round"/>
<path d="M675.0 1619.3H729.0" stroke="#4f81bd" stroke-width="6.2" stroke-linecap="round"/>
<text x="407.0" y="1627.0" font-size="22.4" textLength="229.5" lengthAdjust="spacingAndGlyphs">Bitcoin (in diff., milion)</text>
<text x="734.0" y="1627.0" font-size="22.4" textLength="123.5" lengthAdjust="spacingAndGlyphs">Inflation (%)</text>
</svg>
</body></html>
